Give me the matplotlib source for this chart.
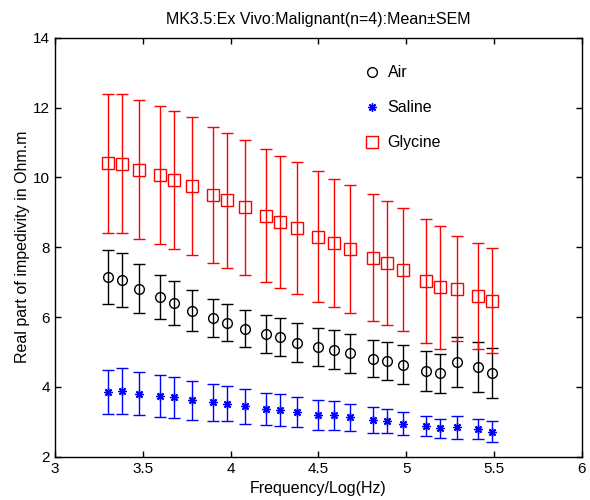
import matplotlib
matplotlib.use('Agg')
import matplotlib.pyplot as plt
from matplotlib.lines import Line2D

# log10 frequency positions
log_freq = [3.30, 3.38, 3.48, 3.60, 3.68, 3.78, 3.90, 3.98, 4.08, 4.20, 4.28, 4.38,
            4.50, 4.59, 4.68, 4.81, 4.89, 4.98, 5.11, 5.19, 5.29, 5.41, 5.49]

air_mean = [7.14, 7.06, 6.81, 6.57, 6.40, 6.18, 5.97, 5.84, 5.67, 5.51, 5.42, 5.27,
            5.14, 5.07, 4.96, 4.81, 4.74, 4.64, 4.46, 4.39, 4.71, 4.57, 4.40]
air_sem = [0.78, 0.78, 0.70, 0.63, 0.62, 0.58, 0.55, 0.54, 0.54, 0.55, 0.55, 0.56,
           0.55, 0.55, 0.55, 0.54, 0.55, 0.55, 0.58, 0.56, 0.71, 0.72, 0.72]

saline_mean = [3.86, 3.87, 3.81, 3.74, 3.70, 3.62, 3.56, 3.52, 3.44, 3.37, 3.33, 3.28,
               3.20, 3.18, 3.13, 3.06, 3.02, 2.95, 2.88, 2.81, 2.84, 2.79, 2.72]
saline_sem = [0.63, 0.66, 0.63, 0.60, 0.58, 0.56, 0.53, 0.51, 0.49, 0.45, 0.46, 0.44,
              0.43, 0.41, 0.39, 0.37, 0.35, 0.34, 0.29, 0.28, 0.32, 0.29, 0.31]

glycine_mean = [10.40, 10.39, 10.22, 10.07, 9.92, 9.75, 9.50, 9.34, 9.14, 8.90, 8.72, 8.55,
                8.30, 8.12, 7.95, 7.70, 7.54, 7.35, 7.03, 6.85, 6.81, 6.60, 6.47]
glycine_sem = [1.99, 1.99, 1.99, 1.98, 1.97, 1.97, 1.95, 1.94, 1.94, 1.91, 1.90, 1.90,
               1.87, 1.84, 1.83, 1.81, 1.78, 1.76, 1.77, 1.76, 1.51, 1.51, 1.51]

plt.rcParams['font.family'] = ['Liberation Sans', 'DejaVu Sans']
plt.rcParams['font.size'] = 11

fig = plt.figure(figsize=(5.9, 5.0), dpi=100)
ax = fig.add_axes([0.0932, 0.0866, 0.8932, 0.838])

common = dict(linestyle='none', capsize=4, elinewidth=1.0, capthick=1.0,
              markeredgewidth=1.0)
styles = [
    ('Air', air_mean, air_sem, dict(color='black', marker='o', markersize=7,
                                    markerfacecolor='none')),
    ('Saline', saline_mean, saline_sem, dict(color='blue', marker=(8, 2, 0),
                                             markersize=6)),
    ('Glycine', glycine_mean, glycine_sem, dict(color='red', marker='s', markersize=8,
                                                markerfacecolor='none')),
]
handles = []
for name, m, e, st in styles:
    ax.errorbar(log_freq, m, yerr=e, **st, **common)
    handles.append(Line2D([], [], linestyle='none', markeredgewidth=1.0, label=name, **st))

ax.set_xlim(3, 6)
ax.set_ylim(2, 14)
ax.set_xticks([3, 3.5, 4, 4.5, 5, 5.5, 6])
ax.set_xticklabels(['3', '3.5', '4', '4.5', '5', '5.5', '6'])
ax.set_yticks([2, 4, 6, 8, 10, 12, 14])
ax.tick_params(direction='in', top=True, right=True, length=4, width=1.0, labelsize=11)
for s in ax.spines.values():
    s.set_linewidth(1.0)

ax.set_title('MK3.5:Ex Vivo:Malignant(n=4):Mean\u00b1SEM', fontsize=11.5, pad=10)
ax.set_xlabel('Frequency/Log(Hz)', fontsize=11.5, labelpad=4)
ax.set_ylabel('Real part of impedivity in Ohm.m', fontsize=11.5, labelpad=2)

ax.legend(handles=handles, loc='upper left', bbox_to_anchor=(0.56, 0.968), frameon=False,
          fontsize=11.5, handlelength=1.0, labelspacing=1.25, handletextpad=0.45,
          numpoints=1)

fig.savefig('out.png', dpi=100)
